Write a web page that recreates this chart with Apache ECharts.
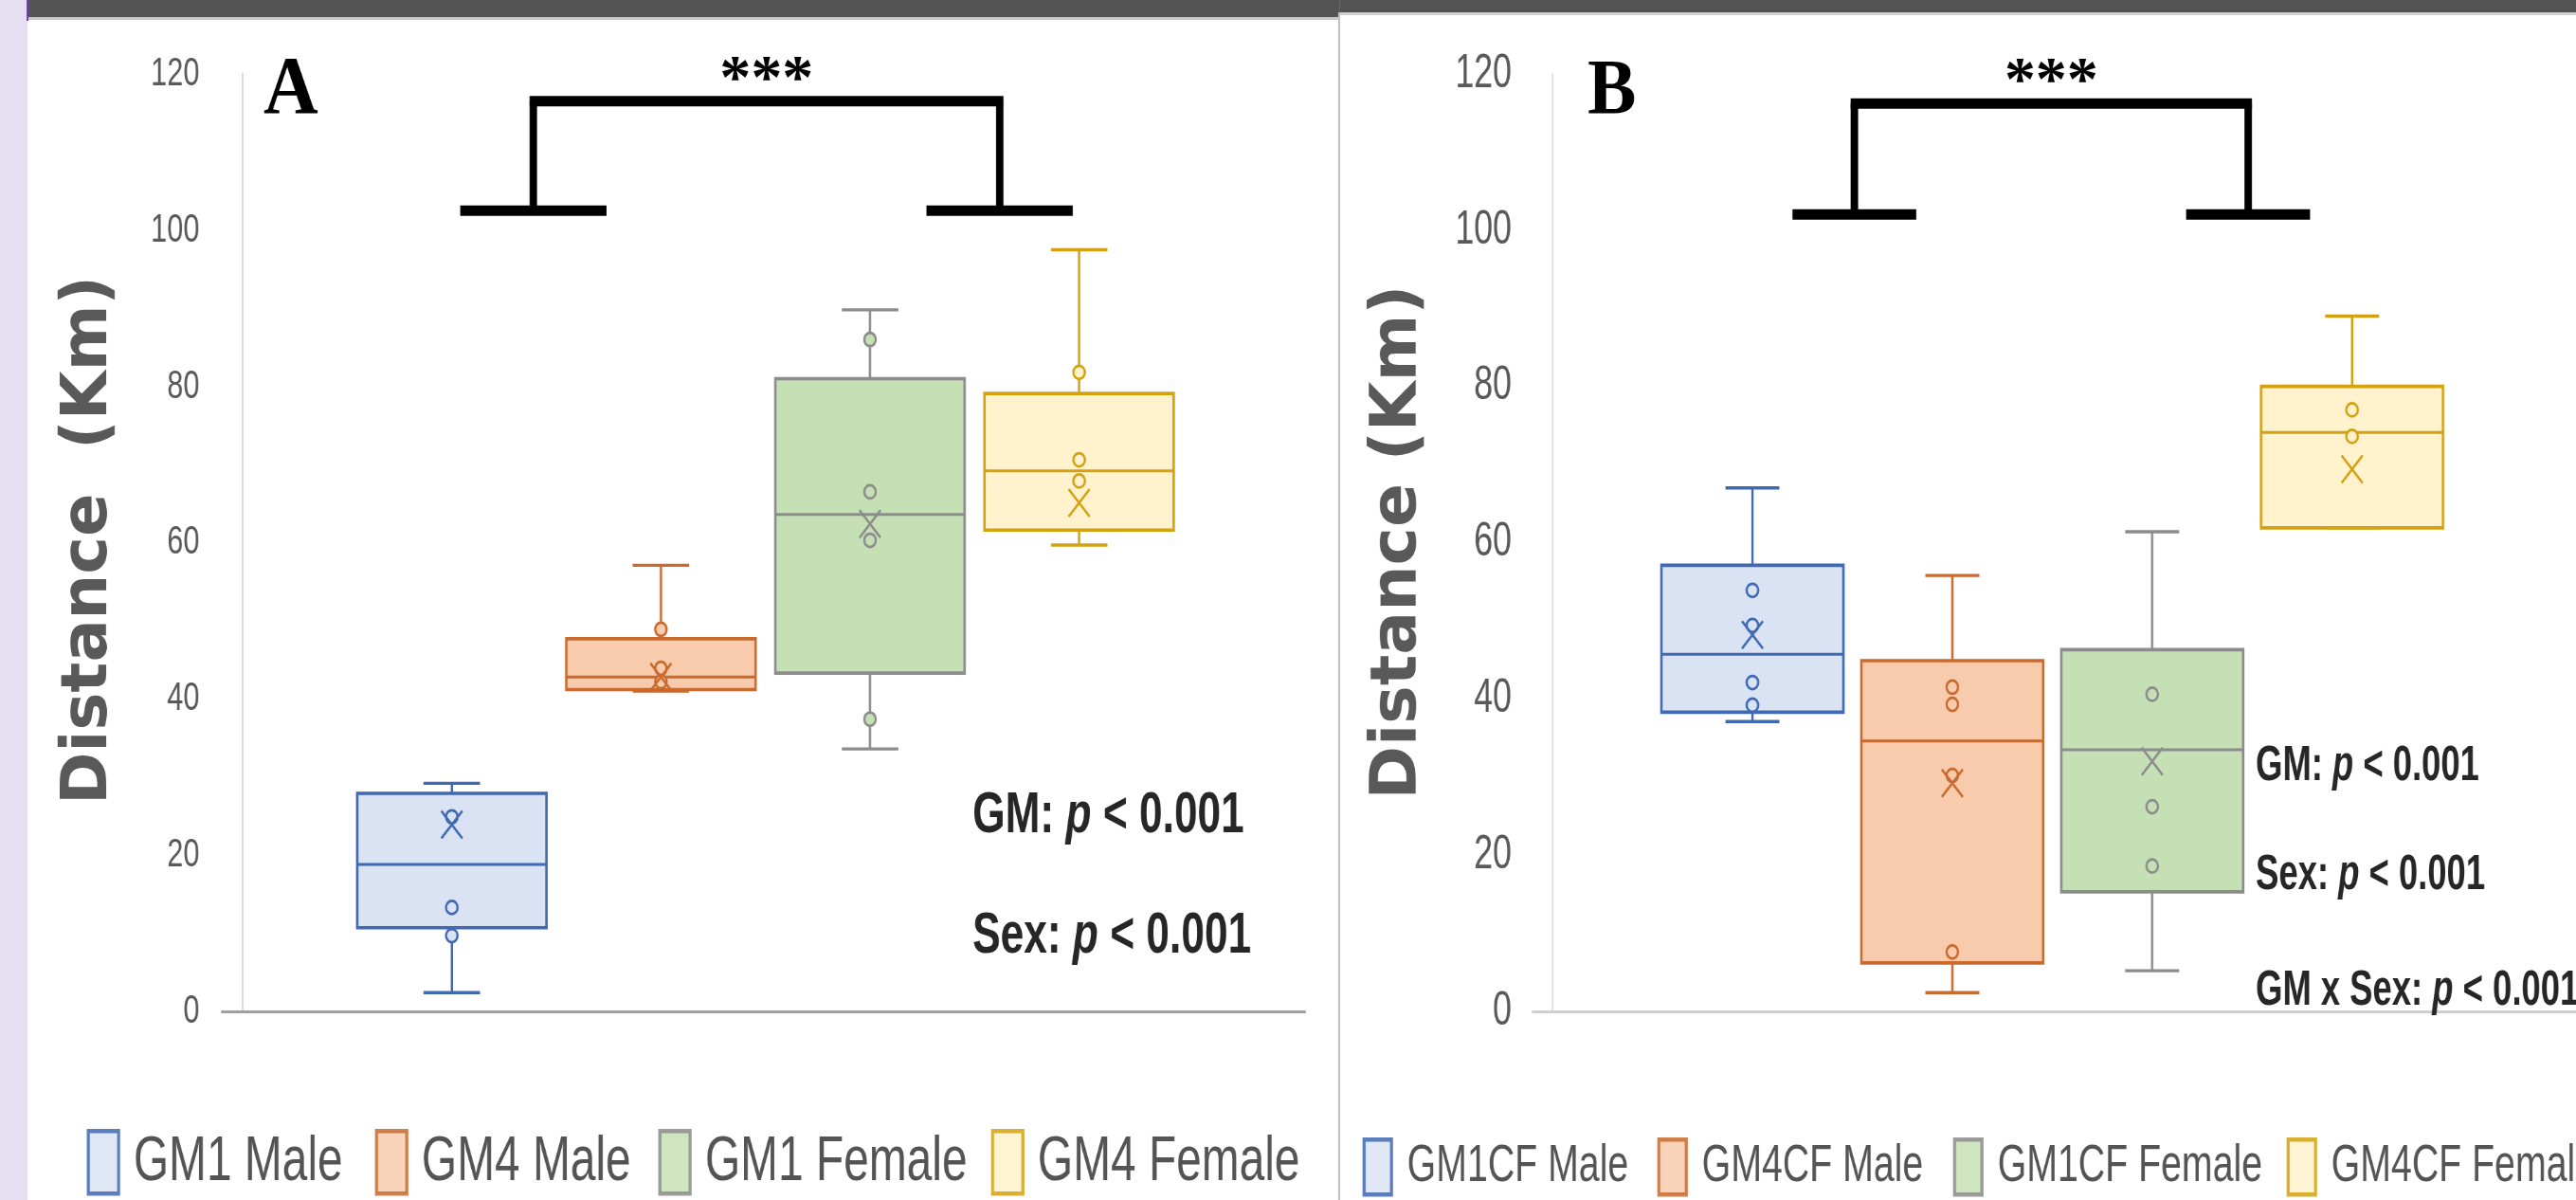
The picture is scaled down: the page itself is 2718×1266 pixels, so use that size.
<!DOCTYPE html>
<html><head><meta charset="utf-8">
<script src="https://cdn.jsdelivr.net/npm/echarts@6/dist/echarts.min.js"></script>
<style>
html,body{margin:0;padding:0;background:#fff;overflow:hidden;width:2718px;height:1266px}
#c{width:3805px;height:1266px;transform:scaleX(0.7143);transform-origin:0 0}
</style>
</head><body><div id="c"></div>
<script>
// ================= DATA =================
const groupsA = ['GM1 Male', 'GM4 Male', 'GM1 Female', 'GM4 Female'];
const groupsB = ['GM1CF Male', 'GM4CF Male', 'GM1CF Female', 'GM4CF Female'];
const groupX = [1, 2, 3, 4];
const yTickValues = [0, 20, 40, 60, 80, 100, 120];

// Panel A (box statistics)
const minA  = [2.4, 41.0, 33.6, 59.7];
const q1A   = [10.7, 41.2, 43.3, 61.6];
const medA  = [18.8, 42.8, 63.6, 69.2];
const q3A   = [27.9, 47.7, 81.0, 79.1];
const maxA  = [29.2, 57.1, 89.8, 97.5];
const meanA = [23.9, 42.8, 62.4, 65.1];
const pointsA = [[24.9, 13.3, 9.7], [48.9, 43.9, 42.2], [86.0, 66.5, 60.3, 37.4], [81.8, 70.6, 67.9]];

// Panel B (box statistics)
const minB  = [37.1, 2.4, 5.2, 61.9];
const q1B   = [38.3, 6.2, 15.3, 61.9];
const medB  = [45.7, 34.6, 33.5, 74.1];
const q3B   = [57.1, 44.9, 46.3, 80.0];
const maxB  = [67.0, 55.8, 61.4, 89.0];
const meanB = [48.2, 29.2, 32.0, 69.4];
const pointsB = [[53.9, 49.4, 42.1, 39.2], [41.5, 39.3, 30.2, 7.6], [40.6, 26.2, 18.6], [77.0, 73.6]];

// significance brackets: x = [left leg, right leg], y = [feet, top]
const bracketAX = [1.39, 3.62];
const bracketAY = [102.5, 116.5];
const bracketBX = [1.51, 3.48];
const bracketBY = [102.0, 116.2];

const statTextsA = ['GM: ', 'Sex: '];
const statTextsB = ['GM: ', 'Sex: ', 'GM x Sex: '];
const yTitles = ['Distance  (Km)', 'Distance (Km)'];
const panelLetters = ['A', 'B'];

// ================= STYLE / LAYOUT =================
// The page is drawn 1.4x wider and squeezed back horizontally (as in the reference image).
const K = 1.4;
const STROKE = ['#4069B3', '#C96A2E', '#8C8C8C', '#D4A210'];
const FILL   = ['#DAE3F3', '#F8CBAD', '#C5E0B4', '#FFF2CC'];
const SANS = '"Liberation Sans", Arial, sans-serif';
const X_PATH = 'path://M0,0L22,30M22,0L0,30';

const panels = [
  { groups: groupsA, mn: minA, q1: q1A, md: medA, q3: q3A, mx: maxA, mean: meanA, pts: pointsA,
    bx: bracketAX, by: bracketAY, footW: 0.70, boxW: 0.905, capW: 0.27 },
  { groups: groupsB, mn: minB, q1: q1B, md: medB, q3: q3B, mx: maxB, mean: meanB, pts: pointsB,
    bx: bracketBX, by: bracketBY, footW: 0.62, boxW: 0.91, capW: 0.27 }
];

const series = [];
panels.forEach((P, p) => {
  P.groups.forEach((name, i) => {
    series.push({
      type: 'custom', name: name, xAxisIndex: p, yAxisIndex: p, z: 2,
      data: [[groupX[i], P.mn[i], P.q1[i], P.md[i], P.q3[i], P.mx[i]]],
      encode: { x: 0, y: [1, 2, 3, 4, 5] },
      renderItem: function (params, api) {
        const x = api.value(0);
        const c = v => api.coord([x, v]);
        const bw = api.size([P.boxW, 0])[0];
        const cw = api.size([P.capW, 0])[0];
        const pMin = c(api.value(1)), pQ1 = c(api.value(2)), pMed = c(api.value(3)),
              pQ3 = c(api.value(4)), pMax = c(api.value(5));
        const cx = pMed[0];
        const ls = { stroke: STROKE[i], lineWidth: 3.4 };
        return { type: 'group', children: [
          { type: 'line', shape: { x1: cx, y1: pMax[1], x2: cx, y2: pQ3[1] }, style: ls },
          { type: 'line', shape: { x1: cx, y1: pQ1[1], x2: cx, y2: pMin[1] }, style: ls },
          { type: 'line', shape: { x1: cx - cw / 2, y1: pMax[1], x2: cx + cw / 2, y2: pMax[1] }, style: ls },
          { type: 'line', shape: { x1: cx - cw / 2, y1: pMin[1], x2: cx + cw / 2, y2: pMin[1] }, style: ls },
          { type: 'rect', shape: { x: cx - bw / 2, y: pQ3[1], width: bw, height: pQ1[1] - pQ3[1] },
            style: { fill: FILL[i], stroke: STROKE[i], lineWidth: 3.6 } },
          { type: 'line', shape: { x1: cx - bw / 2, y1: pMed[1], x2: cx + bw / 2, y2: pMed[1] },
            style: { stroke: STROKE[i], lineWidth: 3 } }
        ]};
      }
    });
    const data = P.pts[i].map(v => ({ value: [groupX[i], v] }));
    data.push({ value: [groupX[i], P.mean[i]], symbol: X_PATH, symbolSize: [31, 29],
      itemStyle: { color: 'rgba(0,0,0,0)', borderColor: STROKE[i], borderWidth: 3 } });
    series.push({
      type: 'scatter', name: name, xAxisIndex: p, yAxisIndex: p, z: 5,
      symbol: 'circle', symbolSize: [17, 14],
      itemStyle: { color: FILL[i], borderColor: STROKE[i], borderWidth: 3, opacity: 1 },
      data: data
    });
  });
  series.push({
    type: 'custom', xAxisIndex: p, yAxisIndex: p, z: 6,
    data: [[P.bx[0], P.bx[1], P.by[0], P.by[1]]],
    encode: { x: [0, 1], y: [2, 3] },
    renderItem: function (params, api) {
      const l = api.value(0), r = api.value(1), foot = api.value(2), top = api.value(3);
      const pLF = api.coord([l, foot]), pLT = api.coord([l, top]);
      const pRF = api.coord([r, foot]), pRT = api.coord([r, top]);
      const fw = api.size([P.footW, 0])[0];
      const S = { stroke: '#000', lineWidth: 11 };
      return { type: 'group', children: [
        { type: 'line', shape: { x1: pLT[0] - 5.5, y1: pLT[1], x2: pRT[0] + 5.5, y2: pRT[1] }, style: S },
        { type: 'line', shape: { x1: pLT[0], y1: pLT[1], x2: pLF[0], y2: pLF[1] }, style: S },
        { type: 'line', shape: { x1: pRT[0], y1: pRT[1], x2: pRF[0], y2: pRF[1] }, style: S },
        { type: 'line', shape: { x1: pLF[0] - fw / 2, y1: pLF[1], x2: pLF[0] + fw / 2, y2: pLF[1] }, style: S },
        { type: 'line', shape: { x1: pRF[0] - fw / 2, y1: pRF[1], x2: pRF[0] + fw / 2, y2: pRF[1] }, style: S },
        { type: 'text', x: (pLT[0] + pRT[0]) / 2, y: pLT[1] - 21, scaleX: K,
          style: { text: '***', x: 0, y: 0, fill: '#000', font: 'bold 66px "Liberation Serif", serif',
                   align: 'center', verticalAlign: 'middle' } }
      ]};
    }
  });
});

function pText(label, xRef, y, size) {
  return { type: 'text', x: xRef * K, y: y, z: 20,
    style: { text: '{b|' + label + '}{i|p}{b| < 0.001}', verticalAlign: 'middle', align: 'left',
      rich: {
        b: { fontFamily: SANS, fontWeight: 'bold', fontSize: size, fill: '#262626' },
        i: { fontFamily: SANS, fontWeight: 'bold', fontStyle: 'italic', fontSize: size, fill: '#262626' }
      } } };
}
function yTitle(text, xRef, y, size) {
  return { type: 'text', x: xRef * K, y: y, rotation: Math.PI / 2, scaleY: K, z: 20,
    style: { text: text, font: 'bold ' + size + 'px "DejaVu Sans", sans-serif', fill: '#595959',
             align: 'center', verticalAlign: 'middle' } };
}

const graphic = [
  { type: 'rect', shape: { x: 0, y: 0, width: 29 * K, height: 1266 }, style: { fill: '#E6DEF1' }, z: -10 },
  { type: 'rect', shape: { x: 29 * K, y: 0, width: 1384 * K, height: 18 }, style: { fill: '#545454' }, z: -9 },
  { type: 'rect', shape: { x: 29 * K, y: 18, width: 1384 * K, height: 3 }, style: { fill: '#C8C8C8' }, z: -9 },
  { type: 'rect', shape: { x: 1413 * K, y: 0, width: 1305 * K, height: 13 }, style: { fill: '#545454' }, z: -9 },
  { type: 'rect', shape: { x: 1413 * K, y: 13, width: 1305 * K, height: 3 }, style: { fill: '#D0D0D0' }, z: -9 },
  { type: 'line', shape: { x1: 1413 * K, y1: 13, x2: 1413 * K, y2: 1266 }, style: { stroke: '#BDBDBD', lineWidth: 2.8 }, z: -9 },
  { type: 'line', shape: { x1: 29 * K, y1: 0, x2: 29 * K, y2: 22 }, style: { stroke: '#7030D0', lineWidth: 2.8 }, z: -8 },
  { type: 'text', x: 278 * K, y: 54, scaleX: 1.3, z: 20, style: { text: panelLetters[0], font: 'bold 86px "Liberation Serif", serif', fill: '#000', align: 'left', verticalAlign: 'top' } },
  { type: 'text', x: 1675 * K, y: 56, scaleX: 1.3, z: 20, style: { text: panelLetters[1], font: 'bold 83px "Liberation Serif", serif', fill: '#000', align: 'left', verticalAlign: 'top' } },
  yTitle(yTitles[0], 95, 570, 67),
  yTitle(yTitles[1], 1476, 572, 68),
  pText(statTextsA[0], 1026, 861, 62),
  pText(statTextsA[1], 1026, 988, 62),
  pText(statTextsB[0], 2380, 809, 51),
  pText(statTextsB[1], 2380, 924, 51),
  pText(statTextsB[2], 2380, 1046, 51)
];

// one legend component per item so each sits where it does in the reference
const legendLeftA = [88, 392, 691, 1042];
const legendLeftB = [1434, 1745, 2057, 2409];
const legends = [];
function addLegends(groups, lefts, top, w, h, fs, pad) {
  groups.forEach((g, i) => {
    legends.push({
      left: lefts[i] * K, top: top, orient: 'horizontal', itemWidth: w * K, itemHeight: h,
      icon: 'rect', selectedMode: false,
      textStyle: { fontFamily: SANS, fontSize: fs, color: '#545454', padding: [0, 0, 0, pad] },
      data: [{ name: g, icon: 'rect',
        itemStyle: { color: FILL[i], borderColor: STROKE[i], borderWidth: 4.5, opacity: 0.85 } }]
    });
  });
}
addLegends(groupsA, legendLeftA, 1186, 32, 66, 67, 17);
addLegends(groupsB, legendLeftB, 1195, 29, 58, 55, 18);

function yAxis(gridIndex, fs, margin, lineColor) {
  return {
    type: 'value', gridIndex: gridIndex, min: 0, max: 120, interval: 20,
    axisLine: { show: true, lineStyle: { color: lineColor, width: 2.8 } },
    axisTick: { show: false }, splitLine: { show: false },
    axisLabel: { fontFamily: SANS, fontSize: fs, color: '#595959', margin: margin,
      formatter: v => (yTickValues.indexOf(v) >= 0 ? String(v) : '') }
  };
}
function xAxis(gridIndex, min, max, lineColor) {
  return {
    type: 'value', gridIndex: gridIndex, min: min, max: max,
    axisLine: { show: true, onZero: false, lineStyle: { color: lineColor, width: 3 } },
    axisTick: { show: false }, axisLabel: { show: false }, splitLine: { show: false }
  };
}

const chart = echarts.init(document.getElementById('c'));
chart.setOption({
  animation: false,
  backgroundColor: '#ffffff',
  grid: [
    { left: 234 * K, right: (2718 - 1377) * K, top: 78, bottom: 199 },
    { left: 1617 * K, right: 0, top: 78, bottom: 199 }
  ],
  xAxis: [xAxis(0, -0.1, 5.08, '#A0A0A0'), xAxis(1, -0.1, 5.12, '#CFCFCF')],
  yAxis: [yAxis(0, 43, 33, '#D9D9D9'), yAxis(1, 50, 31, '#E3E3E3')],
  legend: legends,
  graphic: graphic,
  series: series
});
</script>
</body></html>
